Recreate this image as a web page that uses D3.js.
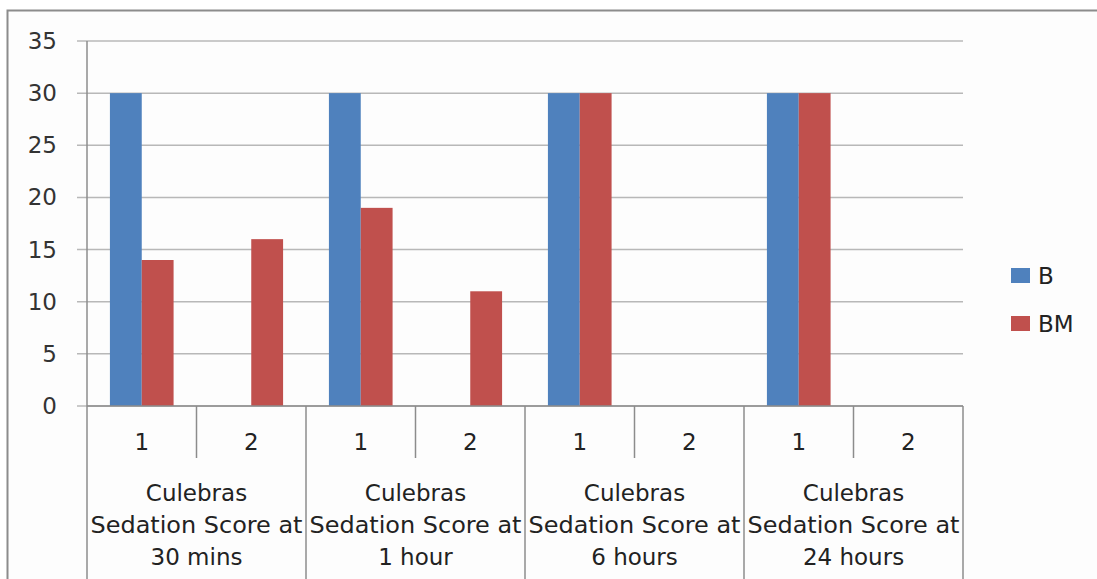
<!DOCTYPE html>
<html>
<head>
<meta charset="utf-8">
<script src="https://cdn.jsdelivr.net/npm/d3@7"></script>
<style>
  body { margin: 0; background: #fff; }
  svg { display: block; font-family: "DejaVu Sans", Verdana, sans-serif; }
</style>
</head>
<body>
<svg width="1097" height="579"></svg>
<script>
// data
const groupLines = [
    ["Culebras", "Sedation Score at", "30 mins"],
    ["Culebras", "Sedation Score at", "1 hour"],
    ["Culebras", "Sedation Score at", "6 hours"],
    ["Culebras", "Sedation Score at", "24 hours"]
];
const subCats = ["1", "2"];
const seriesNames = ["B", "BM"];
const valuesB  = [30, 0, 30, 0, 30, 0, 30, 0];
const valuesBM = [14, 16, 19, 11, 30, 0, 30, 0];
const yTicks = [0, 5, 10, 15, 20, 25, 30, 35];
const colors = ["#4F81BD", "#C0504D"];

const svg = d3.select("svg");
const fs = 23;

// outer chart border
svg.append("rect")
.attr("x", 7.5).attr("y", 10.5)
.attr("width", 1100).attr("height", 600)
.attr("fill", "#fdfdfd")
.attr("stroke", "#8c8c8c")
.attr("stroke-width", 2);

const plotL = 87, plotR = 963, plotT = 41, plotB = 406;

// categories: group index + sub label
const cats = [];
groupLines.forEach((g, gi) => subCats.forEach(s => cats.push(gi + "-" + s)));

const x = d3.scaleBand().domain(cats).range([plotL, plotR]).paddingInner(0).paddingOuter(0);
const x1 = d3.scaleBand().domain(seriesNames).range([0, x.bandwidth()]).paddingInner(0).paddingOuter(0.72);
const y = d3.scaleLinear().domain([0, 35]).range([plotB, plotT]);

// gridlines
svg.append("g")
.selectAll("line")
.data(yTicks)
.join("line")
.attr("x1", plotL - 10).attr("x2", plotR)
.attr("y1", d => y(d)).attr("y2", d => y(d))
.attr("stroke", "#b8b8b8")
.attr("stroke-width", 1.5);

// y tick labels
svg.append("g")
.selectAll("text")
.data(yTicks)
.join("text")
.attr("x", 57).attr("y", d => y(d))
.attr("dy", "0.35em")
.attr("text-anchor", "end")
.attr("font-size", fs)
.attr("fill", "#333")
.text(d => d);

// bars
const series = [valuesB, valuesBM];
series.forEach((vals, si) => {
    svg.append("g")
    .selectAll("rect")
    .data(vals.map((v, i) => ({ cat: cats[i], v })))
    .join("rect")
    .attr("x", d => x(d.cat) + x1(seriesNames[si]))
    .attr("y", d => y(d.v))
    .attr("width", x1.bandwidth())
    .attr("height", d => y(0) - y(d.v))
    .attr("fill", colors[si]);
});

// y axis line
svg.append("line")
.attr("x1", plotL).attr("x2", plotL)
.attr("y1", plotT).attr("y2", plotB)
.attr("stroke", "#8c8c8c").attr("stroke-width", 1.5);

// x axis line
svg.append("line")
.attr("x1", plotL).attr("x2", plotR)
.attr("y1", plotB).attr("y2", plotB)
.attr("stroke", "#8c8c8c").attr("stroke-width", 1.5);

// separators: between sub categories (short) and groups (long)
const seps = d3.range(cats.length + 1);
svg.append("g")
.selectAll("line")
.data(seps)
.join("line")
.attr("x1", i => plotL + i * x.bandwidth())
.attr("x2", i => plotL + i * x.bandwidth())
.attr("y1", plotB)
.attr("y2", i => i % 2 === 0 ? 579 : 458)
.attr("stroke", "#8c8c8c").attr("stroke-width", 1.5);

// sub category labels
svg.append("g")
.selectAll("text")
.data(cats)
.join("text")
.attr("x", d => x(d) + x.bandwidth() / 2)
.attr("y", 442)
.attr("dy", "0.35em")
.attr("text-anchor", "middle")
.attr("font-size", fs)
.attr("fill", "#222")
.text(d => d.split("-")[1]);

// group labels
const gw = x.bandwidth() * 2;
groupLines.forEach((lines, gi) => {
    svg.append("text")
    .attr("text-anchor", "middle")
    .attr("font-size", fs)
    .attr("fill", "#222")
    .selectAll("tspan")
    .data(lines)
    .join("tspan")
    .attr("x", plotL + gi * gw + gw / 2)
    .attr("y", (d, i) => 493 + i * 32)
    .attr("dy", "0.35em")
    .attr("textLength", d => d === "Sedation Score at" ? 212 : null)
    .attr("lengthAdjust", "spacingAndGlyphs")
    .text(d => d);
});

// legend
const legend = svg.append("g")
.selectAll("g")
.data(seriesNames)
.join("g")
.attr("transform", (d, i) => `translate(1011,${268 + i * 48})`);

legend.append("rect")
.attr("width", 19).attr("height", 15)
.attr("fill", (d, i) => colors[i]);

legend.append("text")
.attr("x", 27).attr("y", 8)
.attr("dy", "0.35em")
.attr("font-size", fs)
.attr("fill", "#222")
.text(d => d);
</script>
</body>
</html>
